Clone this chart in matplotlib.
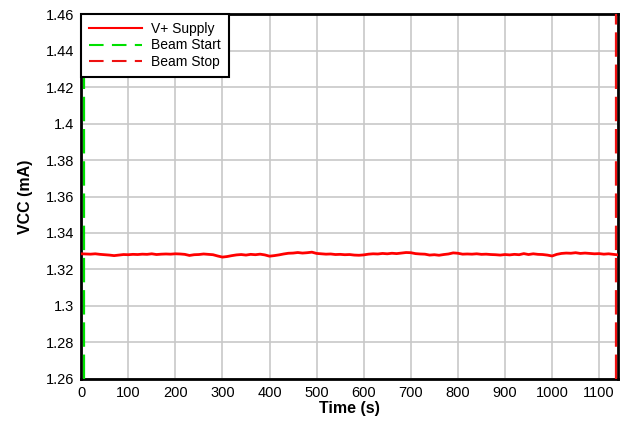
import numpy as np
import matplotlib.pyplot as plt

plt.rcParams['font.family'] = ['Liberation Sans', 'DejaVu Sans']

# ______________________ DATA __________________________

# time axis, one reading every 10 s
time_s = list(range(0, 1141, 10))

vcc_ma = [
    1.3286, 1.3285, 1.3284, 1.3286, 1.3283, 1.3281, 1.3279, 1.3276, 1.3279, 1.3282,  # 0-90
    1.3281, 1.3283, 1.3282, 1.3284, 1.3283, 1.3286, 1.3282, 1.3284, 1.3285, 1.3284,  # 100-190
    1.3286, 1.3285, 1.3283, 1.3277, 1.3281, 1.3282, 1.3285, 1.3283, 1.3281, 1.3274,  # 200-290
    1.3268, 1.3271, 1.3276, 1.3280, 1.3282, 1.3279, 1.3283, 1.3281, 1.3284, 1.3280,  # 300-390
    1.3273, 1.3276, 1.3280, 1.3285, 1.3289, 1.3290, 1.3293, 1.3290, 1.3292, 1.3295,  # 400-490
    1.3288, 1.3286, 1.3284, 1.3285, 1.3282, 1.3283, 1.3281, 1.3282, 1.3279, 1.3278,  # 500-590
    1.3280, 1.3284, 1.3286, 1.3285, 1.3288, 1.3286, 1.3289, 1.3287, 1.3290, 1.3293,  # 600-690
    1.3292, 1.3287, 1.3285, 1.3284, 1.3279, 1.3281, 1.3278, 1.3282, 1.3285, 1.3291,  # 700-790
    1.3289, 1.3284, 1.3285, 1.3284, 1.3286, 1.3283, 1.3284, 1.3282, 1.3281, 1.3279,  # 800-890
    1.3282, 1.3280, 1.3283, 1.3281, 1.3287, 1.3282, 1.3286, 1.3283, 1.3282, 1.3279,  # 900-990
    1.3274, 1.3283, 1.3288, 1.3290, 1.3289, 1.3292, 1.3288, 1.3290, 1.3288, 1.3286,  # 1000-1090
    1.3287, 1.3284, 1.3286, 1.3283, 1.3280,                                          # 1100-1140
]

beam_start_s = 6
beam_stop_s = 1136

x_ticks = list(range(0, 1101, 100))
y_ticks = [1.26, 1.28, 1.3, 1.32, 1.34, 1.36, 1.38, 1.4, 1.42, 1.44, 1.46]
y_tick_labels = ['1.26', '1.28', '1.3', '1.32', '1.34', '1.36', '1.38', '1.4', '1.42', '1.44', '1.46']

# ______________________ PLOTTING _______________________

fig = plt.figure(figsize=(6.29, 4.21), dpi=100)
ax = fig.add_axes([0.129, 0.0998, 0.8535, 0.8669])

ax.plot(time_s, vcc_ma, color='#ff0000', lw=2, label='V+ Supply', zorder=3)
ax.axvline(beam_start_s, color='#00e000', lw=1.6, ls=(0, (11, 3.5)), label='Beam Start', zorder=4)
ax.axvline(beam_stop_s, color='#ee1111', lw=1.6, ls=(0, (11, 3.5)), label='Beam Stop', zorder=4)

ax.set_xlim(0, 1140)
ax.set_ylim(1.26, 1.46)
ax.set_xticks(x_ticks)
ax.set_yticks(y_ticks)
ax.set_yticklabels(y_tick_labels)
ax.tick_params(length=0, labelsize=10.5, pad=5)
ax.grid(color='#c8c8c8', lw=1.2)
ax.set_axisbelow(True)
for s in ax.spines.values():
    s.set_linewidth(2)
    s.set_color('black')

ax.set_xlabel('Time (s)', fontsize=11.5, fontweight='bold', labelpad=1)
ax.set_ylabel('VCC (mA)', fontsize=11.5, fontweight='bold', labelpad=9)

leg = ax.legend(loc='upper left', fontsize=10, fancybox=False, framealpha=1,
                edgecolor='black', borderaxespad=0, handlelength=3.8,
                borderpad=0.55, labelspacing=0.2, handletextpad=0.7)
leg.get_frame().set_linewidth(1.5)
for h in leg.get_lines():
    h.set_linewidth(1.5)
for h in leg.get_lines()[1:]:
    h.set_linestyle((0, (7, 4)))

fig.savefig('out.png', dpi=100)
